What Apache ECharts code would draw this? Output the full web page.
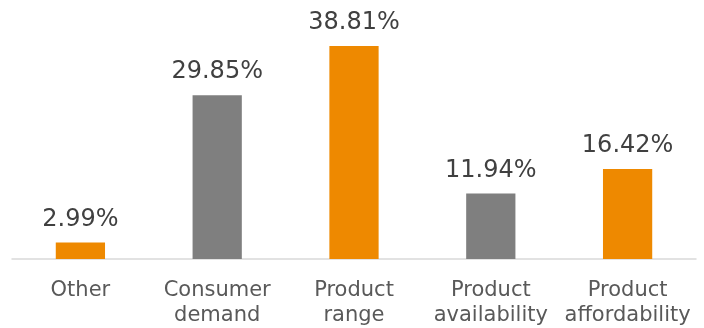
<!DOCTYPE html>
<html><head><meta charset="utf-8">
<script src="https://cdn.jsdelivr.net/npm/echarts@6/dist/echarts.min.js"></script>
<style>html,body{margin:0;padding:0;background:#fff}#c{width:704px;height:328px}</style>
</head><body><div id="c"></div>
<script>
const categories = ['Other', 'Consumer\ndemand', 'Product\nrange', 'Product\navailability', 'Product\naffordability'];
const values = [2.99, 29.85, 38.81, 11.94, 16.42];
const barColors = ['#EE8900', '#7F7F7F', '#EE8900', '#7F7F7F', '#EE8900'];

const chart = echarts.init(document.getElementById('c'));
chart.setOption({
  animation: false,
  grid: {left: 12, right: 8, top: 0, bottom: 69},
  xAxis: {
    type: 'category', data: categories,
    axisLine: {lineStyle: {color: '#D9D9D9', width: 1.5}},
    axisTick: {show: false},
    axisLabel: {color: '#595959', fontSize: 21, fontFamily: 'DejaVu Sans', lineHeight: 25, margin: 19, interval: 0}
  },
  yAxis: {type: 'value', min: 0, max: 47.2, show: false, splitLine: {show: false}},
  series: [{
    type: 'bar', barWidth: '36%',
    data: values.map((v, i) => ({value: v, itemStyle: {color: barColors[i]}})),
    label: {show: true, position: 'top', distance: 11, color: '#404040', fontSize: 24, fontFamily: 'DejaVu Sans', lineHeight: 24,
      formatter: p => p.value.toFixed(2) + '%'}
  }]
});
</script></body></html>
